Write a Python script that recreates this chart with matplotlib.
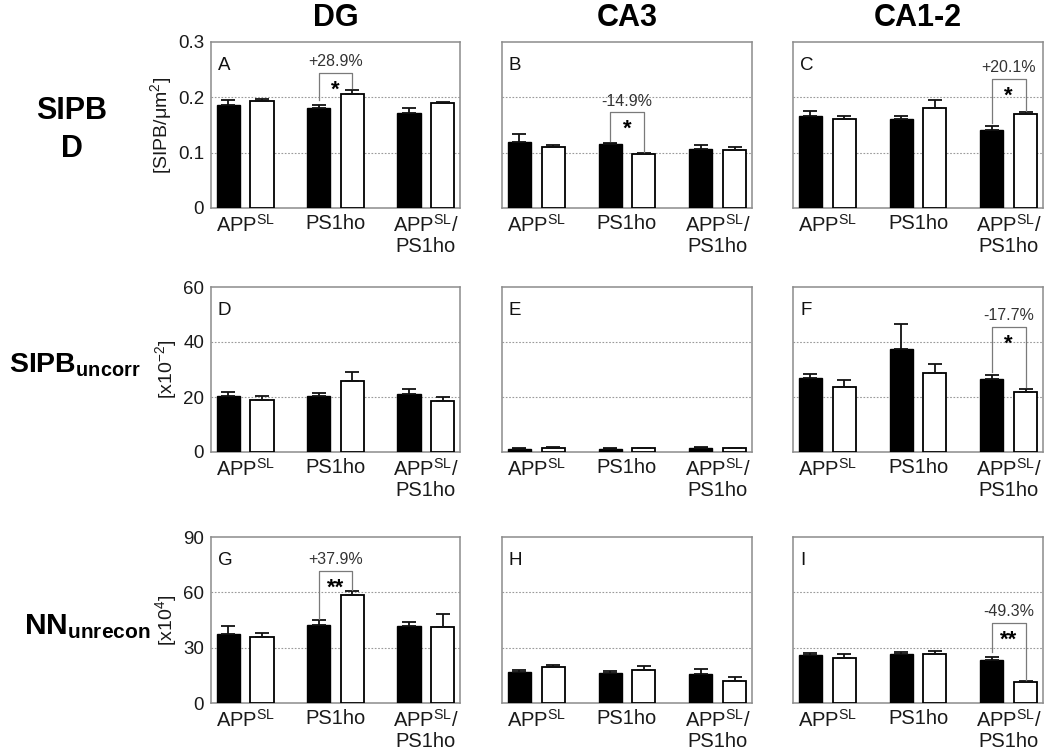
import numpy as np
import matplotlib
matplotlib.use("Agg")
import matplotlib.pyplot as plt

plt.rcParams['font.family'] = ['Liberation Sans', 'DejaVu Sans']
plt.rcParams['mathtext.fontset'] = 'custom'
plt.rcParams['mathtext.rm'] = 'Liberation Sans'
plt.rcParams['mathtext.it'] = 'Liberation Sans:italic'
plt.rcParams['mathtext.bf'] = 'Liberation Sans:bold'

#---------------------Data-------------------------
groups = [r"APP$^{\mathrm{SL}}$", "PS1ho", "APP$^{\\mathrm{SL}}$/\nPS1ho"]
regions = ["DG", "CA3", "CA1-2"]
measures = ["SIPB\nD", r"SIPB$_{\mathbf{uncorr}}$", r"NN$_{\mathbf{unrecon}}$"]
units = [r"[SIPB/μm$^{2}$]", r"[x10$^{-2}$]", r"[x10$^{4}$]"]
row_ticks = [[0, 0.1, 0.2, 0.3], [0, 20, 40, 60], [0, 30, 60, 90]]
row_ticklabels = [["0", "0.1", "0.2", "0.3"], ["0", "20", "40", "60"], ["0", "30", "60", "90"]]
panel_letters = ["A", "B", "C", "D", "E", "F", "G", "H", "I"]

# SIPB D
A_black = [0.187, 0.181, 0.172]; A_black_err = [0.008, 0.005, 0.008]
A_white = [0.193, 0.206, 0.189]; A_white_err = [0.004, 0.008, 0.003]
B_black = [0.119, 0.115, 0.107]; B_black_err = [0.014, 0.003, 0.006]
B_white = [0.111, 0.098, 0.104]; B_white_err = [0.002, 0.002, 0.006]
C_black = [0.167, 0.161, 0.141]; C_black_err = [0.009, 0.006, 0.008]
C_white = [0.161, 0.181, 0.169]; C_white_err = [0.005, 0.015, 0.004]
# SIPB uncorr
D_black = [20.4, 20.2, 21.0]; D_black_err = [1.3, 1.3, 1.8]
D_white = [19.0, 25.8, 18.4]; D_white_err = [1.5, 3.2, 1.7]
E_black = [1.2, 1.2, 1.6]; E_black_err = [0.1, 0.1, 0.1]
E_white = [1.6, 1.3, 1.3]; E_white_err = [0.2, 0.1, 0.1]
F_black = [26.8, 37.6, 26.5]; F_black_err = [1.4, 9.0, 1.4]
F_white = [23.5, 28.7, 21.8]; F_white_err = [2.8, 3.4, 1.0]
# NN unrecon
G_black = [37.2, 42.5, 41.6]; G_black_err = [4.6, 2.3, 2.2]
G_white = [35.6, 58.4, 41.2]; G_white_err = [2.4, 2.4, 7.3]
H_black = [17.0, 16.1, 15.6]; H_black_err = [0.9, 1.1, 2.8]
H_white = [19.7, 17.9, 12.1]; H_white_err = [1.1, 2.0, 1.8]
I_black = [25.9, 26.8, 23.1]; I_black_err = [1.0, 1.0, 2.0]
I_white = [24.6, 26.6, 11.6]; I_white_err = [2.0, 1.6, 0.2]

panels = [
    (A_black, A_black_err, A_white, A_white_err),
    (B_black, B_black_err, B_white, B_white_err),
    (C_black, C_black_err, C_white, C_white_err),
    (D_black, D_black_err, D_white, D_white_err),
    (E_black, E_black_err, E_white, E_white_err),
    (F_black, F_black_err, F_white, F_white_err),
    (G_black, G_black_err, G_white, G_white_err),
    (H_black, H_black_err, H_white, H_white_err),
    (I_black, I_black_err, I_white, I_white_err),
]

# significance: panel -> (group, change, stars, bracket left / top / right)
signif = {
    0: (1, "+28.9%", "*", (0.195, 0.244, 0.216)),
    1: (1, "-14.9%", "*", (0.121, 0.173, 0.101)),
    2: (2, "+20.1%", "*", (0.153, 0.233, 0.175)),
    5: (2, "-17.7%", "*", (29.0, 45.6, 23.5)),
    6: (1, "+37.9%", "**", (45.5, 71.8, 61.5)),
    8: (2, "-49.3%", "**", (27.5, 43.4, 12.5)),
}

#---------------------Plotting-------------------------
W, H = 1050, 755
fig = plt.figure(figsize=(W / 100, H / 100), dpi=100)

col_left = [211, 502, 793]
col_width = [249, 250, 250]
row_top = [42, 287, 537]
row_bottom = [208, 452, 703]

x = np.arange(3)
off = 0.186
bw = 0.256

for i, (bk, bke, wt, wte) in enumerate(panels):
    r, c = divmod(i, 3)
    ax = fig.add_axes([col_left[c] / W, 1 - row_bottom[r] / H,
                       col_width[c] / W, (row_bottom[r] - row_top[r]) / H])
    ekw = dict(ecolor='#111111', elinewidth=1.3, capsize=5, capthick=1.3)
    ax.bar(x - off, bk, bw, color='black', edgecolor='black', linewidth=1,
           yerr=[np.zeros(3), bke], error_kw=ekw, zorder=3)
    ax.bar(x + off, wt, bw, color='white', edgecolor='black', linewidth=1.3,
           yerr=[np.zeros(3), wte], error_kw=ekw, zorder=3)

    ax.set_xlim(-0.378, 2.378)
    ax.set_ylim(row_ticks[r][0], row_ticks[r][-1])
    ax.set_yticks(row_ticks[r])
    for t in row_ticks[r][1:-1]:
        ax.axhline(t, color='#9a9a9a', lw=0.8, ls=(0, (1.5, 1.5)), zorder=1)
    ax.set_xticks(x)
    ax.set_xticklabels(groups, fontsize=14.5, color='#1a1a1a', linespacing=1.1)
    ax.tick_params(length=0)
    ax.tick_params(axis='x', pad=4)
    ax.tick_params(axis='y', pad=5)
    if c == 0:
        ax.set_yticklabels(row_ticklabels[r], fontsize=13.5, color='#1a1a1a')
        ax.set_ylabel(units[r], fontsize=14, color='#1a1a1a', labelpad=3)
    else:
        ax.set_yticklabels([])
    for s in ax.spines.values():
        s.set_color('#8c8c8c')
        s.set_linewidth(1.1)

    ax.text(0.028, 0.91, panel_letters[i], transform=ax.transAxes,
            fontsize=13.5, va='top', ha='left', color='#111111')

    if i in signif:
        g, pct, stars, (yl, yt, yr) = signif[i]
        xl, xr = g - off, g + off
        ax.plot([xl, xl, xr, xr], [yl, yt, yt, yr], color='#7a7a7a', lw=0.9, zorder=4)
        ax.annotate(pct, (g, yt), xytext=(0, 8), textcoords='offset points',
                    ha='center', va='center', fontsize=11.5, color='#333333')
        ax.annotate(stars, (g, yt), xytext=(0, -12.5), textcoords='offset points',
                    ha='center', va='center', fontsize=16, fontweight='bold', color='black')

for c, name in enumerate(regions):
    fig.text((col_left[c] + col_width[c] / 2) / W, 1 - 18 / H, name,
             ha='center', va='center', fontsize=22, fontweight='bold')

fig.text(72 / W, 1 - 130 / H, measures[0], ha='center', va='center',
         fontsize=22, fontweight='bold', linespacing=1.35)
fig.text(75 / W, 1 - 365 / H, measures[1], ha='center', va='center',
         fontsize=20.5, fontweight='bold')
fig.text(87 / W, 1 - 627 / H, measures[2], ha='center', va='center',
         fontsize=21.5, fontweight='bold')

plt.savefig("out.png", dpi=100)
